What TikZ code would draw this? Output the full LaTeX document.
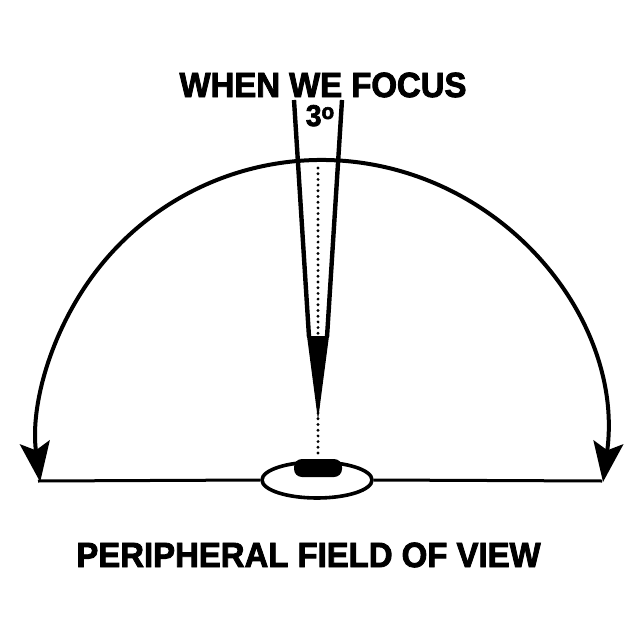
\documentclass[tikz,border=0pt]{standalone}
\usepackage{fontspec}
\newfontfamily\headfont{Liberation Sans}[FakeStretch=0.94, BoldFeatures={FakeBold=2.5}]
\usepackage{tikz}
\usetikzlibrary{arrows.meta, positioning, shapes.geometric}

\begin{document}
\begin{tikzpicture}[
  x=0.5pt, y=-0.5pt,
  >={Stealth[length=20pt, width=15pt, inset=4pt]},
  caps/.style={font=\headfont\bfseries\fontsize{17.5}{20}\selectfont, inner sep=0pt},
  beam/.style={line width=2.2pt},
  dots/.style={line width=1.6pt, line cap=round, dash pattern=on 0pt off 2.85pt}]
  \useasboundingbox (0,0) rectangle (640,640);
  \node[caps] (focus) at (323,85) {WHEN WE FOCUS};
  \node[font=\headfont\bfseries\fontsize{15}{16}\selectfont, inner sep=0pt, anchor=base] (deg) at (320,126)
    {3\raisebox{3.5pt}{\fontsize{11}{12}\selectfont o}};
  \node[caps] (field) at (308.5,555) {PERIPHERAL FIELD OF VIEW};
  % field of view arc
  \draw[<->, line width=2pt] (603,482) arc[start angle=7.7, end angle=-187.7, radius=284];
  % focus beam
  \coordinate (bl) at (294,100); \coordinate (br) at (342,100);
  \coordinate (ml) at (309,337); \coordinate (mr) at (327,337);
  \coordinate (tip) at (318,420); \coordinate (dtop) at (318,168);
  \draw[beam] (bl) -- (ml); \draw[beam] (br) -- (mr);
  \fill (307,336) -- (329,336) -- (tip) -- cycle;
  % eye
  \node[draw, ellipse, fill=white, line width=1.8pt, minimum width=55pt, minimum height=18pt, inner sep=0pt]
    (eye) at (317,480) {};
  \node[fill, rounded corners=4pt, minimum width=24pt, minimum height=9pt, inner sep=0pt]
    (pupil) at (318,468) {};
  \draw[dots] (dtop) -- (pupil.north);
  \coordinate (lend) at (38,481); \coordinate (rend) at (602,481);
  \draw[line width=1.5pt] (lend) -- (eye.west);
  \draw[line width=1.5pt] (eye.east) -- (rend);
\end{tikzpicture}
\end{document}
